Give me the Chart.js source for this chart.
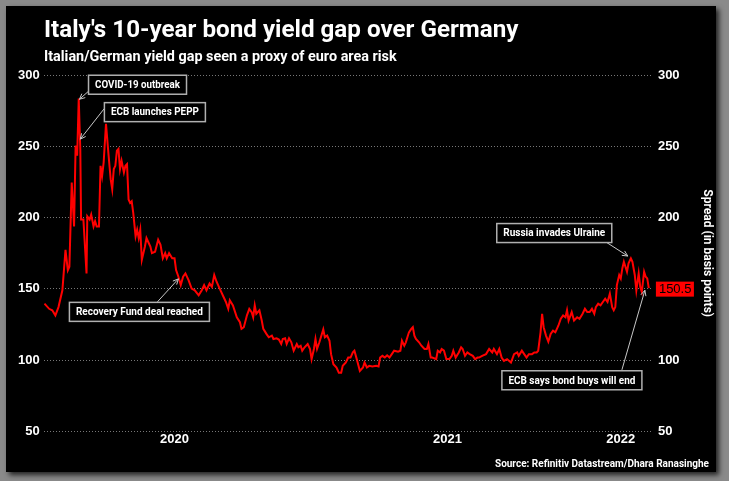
<!DOCTYPE html>
<html>
<head>
<meta charset="utf-8">
<script src="https://cdn.jsdelivr.net/npm/chart.js@4"></script>
<style>
  html, body { margin: 0; padding: 0; }
  body { width: 729px; height: 481px; background: #8a8a8a; position: relative; overflow: hidden; }
  #panel { position: absolute; left: 6px; top: 6px; width: 710px; height: 466px; background: #000; box-shadow: 3px 3px 5px rgba(0,0,0,0.75); }
  #chart { position: absolute; left: 0; top: 0; }
  .txt { position: absolute; color: #fff; font-family: Roboto, sans-serif; font-weight: bold; white-space: nowrap; }
  #title { left: 44px; top: 17px; font-size: 24.2px; line-height: 24px; }
  #subtitle { left: 44px; top: 50px; font-size: 14.4px; line-height: 14px; }
  #source { right: 20px; top: 459px; font-size: 10px; line-height: 10.5px; }
</style>
</head>
<body>
<div id="panel"></div>
<canvas id="chart" width="729" height="481"></canvas>
<div class="txt" id="title">Italy's 10-year bond yield gap over Germany</div>
<div class="txt" id="subtitle">Italian/German yield gap seen a proxy of euro area risk</div>
<div class="txt" id="source">Source: Refinitiv Datastream/Dhara Ranasinghe</div>
<script>
// days counted from 1 Feb 2020
const startDate = Date.UTC(2020, 1, 1);
const dayOffsets = [
  0, 6, 10, 14, 18, 23, 27, 30, 32, 35,
  38, 40, 42, 44, 46, 47, 50, 54, 55, 58,
  60, 63, 65, 67, 70, 72, 74, 76, 79, 82,
  85, 87, 89, 91, 93, 95, 97, 99, 102, 104,
  106, 108, 110, 112, 114, 117, 119, 121, 123, 125,
  127, 129, 131, 134, 136, 138, 142, 146, 149, 152,
  155, 157, 160, 164, 167, 169, 172, 175, 178, 181,
  185, 189, 193, 198, 202, 205, 208, 212, 215, 218,
  221, 225, 230, 233, 236, 238, 242, 247, 251, 253,
  256, 260, 263, 266, 268, 270, 272, 276, 279, 281,
  285, 288, 292, 294, 298, 301, 304, 306, 309, 311,
  314, 317, 320, 324, 326, 329, 331, 334, 338, 341,
  343, 346, 348, 350, 353, 358, 360, 363, 366, 368,
  371, 375, 378, 381, 383, 387, 390, 393, 396, 398,
  401, 405, 409, 411, 414, 417, 421, 426, 429, 431,
  434, 437, 440, 443, 446, 449, 454, 457, 459, 462,
  464, 468, 471, 473, 475, 477, 481, 484, 488, 491,
  493, 496, 498, 503, 505, 508, 510, 513, 516, 520,
  523, 525, 528, 532, 535, 537, 540, 543, 546, 550,
  553, 556, 558, 562, 567, 571, 575, 577, 581, 584,
  587, 590, 594, 599, 603, 607, 609, 613, 616, 619,
  622, 626, 629, 632, 634, 637, 639, 641, 644, 647,
  650, 653, 656, 660, 663, 666, 669, 671, 673, 677,
  680, 684, 687, 691, 694, 697, 700, 703, 706, 708,
  711, 714, 717, 720, 723, 726, 729, 731, 733, 735,
  738, 740, 742, 744, 746, 748, 750, 753, 755, 758,
  760, 763, 765, 767, 770, 772, 774, 776
];
const spread = [
  139.6, 136, 135, 131.4, 137.2, 149, 177.3, 163, 165.5, 224.5,
  193.8, 250.5, 243.4, 283.5, 248.1, 198.6, 198.6, 160.8, 200.9, 198.6,
  202.1, 193.8, 197.4, 193.8, 193.8, 236.3, 229.2, 238.6, 265.8, 245.7,
  226.9, 219.8, 234, 236.3, 246.9, 248.1, 234, 239.8, 231.6, 236.3,
  237.5, 212.7, 210.3, 211.5, 203.3, 186.8, 191.5, 185.6, 191.5, 170.3,
  175, 179.7, 185.6, 182, 179.7, 175, 176, 184.4, 180.9, 171.4,
  175, 171.4, 175, 171.4, 171.4, 163.2, 158.5, 152.6, 158.5, 160.8,
  156.1, 150.2, 149, 145.5, 149, 152.6, 149, 153.7, 151.4, 159.7,
  155, 150.2, 144.3, 140.8, 136, 142, 138.4, 130.1, 126.6, 121.9,
  123.1, 131.4, 136, 133.7, 130.1, 138.4, 132.5, 134.9, 127.8, 121.9,
  118.4, 116, 117.2, 114.8, 115.3, 114.4, 111.3, 114.8, 115.3, 111.3,
  115.3, 112.5, 106.6, 111.3, 109, 110.1, 106.6, 109, 111.3, 107.8,
  100.7, 107.8, 114.8, 107.8, 112.5, 121.5, 116, 117.2, 113.6, 104.2,
  97.1, 94.8, 91.2, 91.2, 96, 98.3, 101.8, 101.8, 105.4, 106.6,
  100.7, 92.4, 94.8, 98.3, 94.8, 96, 95.5, 96, 95.5, 101.8,
  103, 101.8, 103.4, 101.8, 104.2, 106.6, 105.9, 106.6, 113.6, 110.1,
  112.5, 119.5, 121.9, 123.1, 117.2, 114.8, 112.5, 110.1, 107.8, 107.8,
  111.3, 101.8, 101.8, 100.7, 106.6, 105.4, 107.8, 106.6, 100.7, 100.7,
  103, 106.6, 101.8, 105.4, 109, 107.8, 103, 105.4, 104.2, 103,
  100.7, 101.8, 101.8, 103, 104.2, 107.8, 105.4, 107.8, 104.2, 107.8,
  101.8, 99.5, 100.7, 98.3, 104.2, 105.4, 103, 106.6, 104.2, 101.8,
  104.2, 104.2, 105.4, 105.4, 106.6, 119.5, 132.5, 123.1, 117.2, 112.9,
  118.4, 120.7, 119.5, 124.3, 129, 131.4, 130.1, 135, 127.8, 133.7,
  127.8, 130.1, 129, 132.5, 136, 133.7, 133.7, 136, 132.5, 137.2,
  139.6, 138.4, 140.8, 143.1, 140.8, 146.7, 137.2, 135, 137.2, 152.6,
  159.7, 157.3, 164.3, 169, 165.5, 162, 167.9, 171.4, 169, 159.7,
  149, 160.8, 151.4, 147.9, 162, 158.5, 157.3, 150.5
];
const yearLabels = ['2020', '2021', '2022'];

const noteTexts = ['COVID-19 outbreak', 'ECB launches PEPP', 'Recovery Fund deal reached', 'Russia invades Ulraine', 'ECB says bond buys will end'];
const noteDays = [45, 46, 172, 749, 771];
const noteValues = [283, 255, 157, 173, 149];
// box centre dx, dy, box width, arrow tail dx, dy (pixels from the arrow tip)
const noteLayout = [
  [58, -14.5, 98, 9, -8],
  [74.6, -27, 101, 24, -30.6],
  [-39, 33, 140, -21, 23],
  [-73.5, -23, 115, -21, -13.5],
  [-73, 90, 140, -23, 79.6]
];

const dayOf = (y, m, d) => (Date.UTC(y, m, d) - startDate) / 864e5;

function arrow(ctx, x0, y0, x1, y1) {
  ctx.beginPath();
  ctx.moveTo(x0, y0);
  ctx.lineTo(x1, y1);
  ctx.stroke();
  const a = Math.atan2(y1 - y0, x1 - x0), h = 6;
  ctx.beginPath();
  ctx.moveTo(x1 - h * Math.cos(a - 0.45), y1 - h * Math.sin(a - 0.45));
  ctx.lineTo(x1, y1);
  ctx.lineTo(x1 - h * Math.cos(a + 0.45), y1 - h * Math.sin(a + 0.45));
  ctx.stroke();
}

const notes = {
  id: 'notes',
  afterDatasetsDraw(chart) {
    const { ctx, chartArea, scales: { x, y } } = chart;
    ctx.save();
    ctx.font = 'bold 11px Roboto, sans-serif';
    ctx.textAlign = 'center';
    ctx.textBaseline = 'middle';
    noteTexts.forEach((text, i) => {
      const px = x.getPixelForValue(noteDays[i]);
      const py = y.getPixelForValue(noteValues[i]);
      const [dx, dy, w, tx, ty] = noteLayout[i];
      ctx.strokeStyle = '#c8c8c8';
      ctx.lineWidth = 1;
      arrow(ctx, px + tx, py + ty, px, py);
      const bx = px + dx - w / 2, by = py + dy - 9.5;
      ctx.fillStyle = '#000';
      ctx.fillRect(bx, by, w, 19);
      ctx.strokeStyle = '#b0b0b0';
      ctx.lineWidth = 1.5;
      ctx.strokeRect(bx, by, w, 19);
      ctx.fillStyle = '#fff';
      ctx.fillText(text, px + dx, py + dy + 0.5, w - 13);
    });

    // last value tag on the right axis
    const last = spread[spread.length - 1];
    const ly = y.getPixelForValue(last) + 1;
    ctx.fillStyle = '#ff0000';
    ctx.fillRect(chartArea.right + 4, ly - 7.5, 38, 15);
    ctx.fillStyle = '#000';
    ctx.font = '13px "Liberation Sans", sans-serif';
    ctx.textAlign = 'left';
    ctx.fillText(last.toFixed(1), chartArea.right + 7, ly + 0.5);
    ctx.restore();
  }
};

const tickFont = { family: '"Liberation Sans", sans-serif', size: 13, weight: 'bold' };

new Chart(document.getElementById('chart'), {
  type: 'line',
  data: {
    datasets: [{
      data: dayOffsets.map((d, i) => ({ x: d, y: spread[i] })),
      borderColor: '#ff0000',
      borderWidth: 2,
      pointRadius: 0,
      tension: 0
    }]
  },
  options: {
    responsive: false,
    animation: false,
    devicePixelRatio: 1,
    layout: { padding: { left: 14, right: 14, top: 75, bottom: 34 } },
    plugins: { legend: { display: false }, tooltip: { enabled: false } },
    scales: {
      x: {
        type: 'linear',
        min: -1,
        max: 780,
        grid: { display: false, drawTicks: false },
        border: { display: false },
        afterBuildTicks: axis => {
          axis.ticks = yearLabels.map(yr => {
            const a = Math.max(dayOf(+yr, 0, 1), axis.min);
            const b = Math.min(dayOf(+yr + 1, 0, 1), axis.max);
            return { value: (a + b) / 2 };
          });
        },
        ticks: { color: '#fff', font: tickFont, padding: 0, maxRotation: 0, autoSkip: false, callback: (v, i) => yearLabels[i] }
      },
      y: {
        position: 'left',
        min: 50,
        max: 300,
        ticks: { stepSize: 50, color: '#fff', font: tickFont, padding: 4 },
        grid: { color: '#777', lineWidth: 1, drawTicks: false },
        border: { display: false, dash: [1, 2] }
      },
      y1: {
        position: 'right',
        min: 50,
        max: 300,
        ticks: { stepSize: 50, color: '#fff', font: tickFont, padding: 6 },
        grid: { drawOnChartArea: false, drawTicks: false },
        border: { display: false },
        title: {
          display: true,
          text: 'Spread (in basis points)',
          color: '#fff',
          font: { family: 'Roboto, sans-serif', size: 12, weight: 'bold' },
          padding: { top: 1, bottom: 14 }
        }
      }
    }
  },
  plugins: [notes]
});
</script>
</body>
</html>
